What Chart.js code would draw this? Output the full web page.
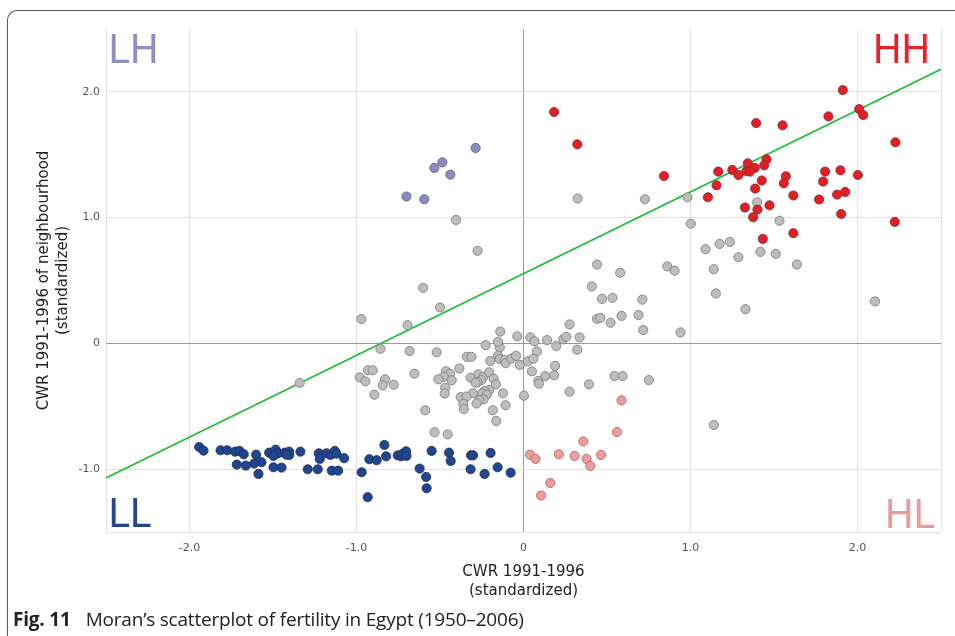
<!DOCTYPE html>
<html>
<head>
<meta charset="utf-8">
<script src="https://cdn.jsdelivr.net/npm/chart.js@4.4.1/dist/chart.umd.min.js"></script>
<style>
  html, body { margin: 0; padding: 0; background: #fff; }
  body { width: 955px; height: 636px; position: relative; overflow: hidden; }
  #frame { position: absolute; left: 7px; top: 10px; width: 1000px; height: 700px;
           border-top: 1.5px solid #555; border-left: 1.5px solid #555; border-top-left-radius: 10px; }
  #wrap { position: absolute; left: 0; top: 0; width: 955px; height: 636px; }
  #caption { position: absolute; left: 13px; top: 606px; font-family: 'Open Sans', sans-serif;
             font-size: 19px; line-height: 26px; color: #222; white-space: nowrap; letter-spacing: -0.2px; }
  #caption b { margin-right: 15px; }
</style>
</head>
<body>
<div id="frame"></div>
<div id="wrap"><canvas id="chart" width="955" height="636"></canvas></div>
<div id="caption"><b>Fig. 11</b>Moran’s scatterplot of fertility in Egypt (1950–2006)</div>
<script>
// 1. Datos (valores estandarizados)
const hhX = [0.183, 0.322, 0.841, 1.912, 2.010, 2.034, 1.826, 1.393, 1.551, 2.227, 1.455, 1.343, 1.441, 1.385,
  1.250, 1.335, 1.355, 1.166, 1.287, 1.571, 1.806, 1.898, 2.002, 1.427, 1.559, 1.794, 1.156, 1.387, 1.926,
  1.878, 1.616, 1.104, 1.770, 1.473, 1.326, 1.401, 1.375, 1.902, 2.223, 1.616, 1.433];
const hhY = [1.840, 1.583, 1.331, 2.014, 1.863, 1.816, 1.805, 1.752, 1.734, 1.599, 1.464, 1.432, 1.416, 1.395,
  1.379, 1.369, 1.366, 1.366, 1.339, 1.329, 1.366, 1.376, 1.339, 1.295, 1.273, 1.287, 1.257, 1.231, 1.204,
  1.183, 1.176, 1.162, 1.144, 1.098, 1.080, 1.064, 1.003, 1.029, 0.966, 0.876, 0.831];

const lhX = [-0.287, -0.534, -0.486, -0.438, -0.701, -0.594];
const lhY = [1.554, 1.395, 1.440, 1.342, 1.168, 1.146];

const hlX = [0.039, 0.072, 0.212, 0.306, 0.378, 0.400, 0.464, 0.358, 0.160, 0.105, 0.560, 0.587];
const hlY = [-0.885, -0.919, -0.882, -0.895, -0.919, -0.975, -0.887, -0.780, -1.110, -1.210, -0.705, -0.453];

const llX = [-1.942, -1.916, -1.814, -1.774, -1.727, -1.701, -1.675, -1.601, -1.717, -1.663, -1.613, -1.569,
  -1.587, -1.523, -1.484, -1.469, -1.497, -1.430, -1.403, -1.402, -1.420, -1.336, -1.497, -1.449, -1.292,
  -1.232, -1.226, -1.180, -1.156, -1.130, -1.120, -1.220, -1.074, -1.148, -1.110, -0.969, -0.933, -0.923,
  -0.879, -0.833, -0.823, -0.753, -0.733, -0.725, -0.703, -0.701, -0.622, -0.583, -0.580, -0.550, -0.446,
  -0.436, -0.314, -0.302, -0.317, -0.233, -0.197, -0.155, -0.077];
const llY = [-0.824, -0.853, -0.850, -0.850, -0.861, -0.855, -0.882, -0.885, -0.964, -0.972, -0.956, -0.945,
  -1.038, -0.869, -0.845, -0.874, -0.895, -0.869, -0.861, -0.887, -0.885, -0.861, -0.985, -0.988, -1.001,
  -1.001, -0.874, -0.874, -0.887, -0.855, -0.877, -0.919, -0.913, -1.012, -1.012, -1.025, -1.223, -0.921,
  -0.929, -0.808, -0.898, -0.890, -0.898, -0.879, -0.858, -0.895, -0.996, -1.062, -1.152, -0.855, -0.869,
  -0.935, -0.890, -0.890, -1.001, -1.038, -0.871, -0.985, -1.028];

const nsX = [0.324, 0.727, 0.982, 1.002, -0.404, -0.275, -0.601, 0.440, 0.579, 0.861, 0.905, 0.409, 0.470,
  0.533, 0.712, 1.399, 1.533, 1.090, 1.174, 1.236, 1.287, 1.419, 1.511, 1.637, 1.139, 1.152, 1.329, 2.105,
  0.440, 0.460, 0.587, 0.689, 0.521, 0.717, 0.940, 0.276, 0.336, -0.139, -0.037, 0.041, 0.066, 0.141, 0.238,
  0.256, 0.196, 0.322, 0.080, -0.142, -0.227, -0.153, -0.153, -0.142, -0.114, -0.107, -0.073, -0.045,
  -0.022, 0.025, 0.059, 0.050, 0.130, 0.183, 0.089, 0.092, 0.189, 0.392, 0.545, 0.593, 0.751, 0.276,
  -0.123, 0.003, -0.107, 1.140, -0.971, -0.500, -0.694, -1.340, -0.857, -0.682, -0.520, -0.339, -0.312,
  -0.384, -0.465, -0.441, -0.477, -0.510, -0.430, -0.469, -0.472, -0.653, -0.931, -0.903, -0.981, -0.947,
  -0.829, -0.843, -0.777, -0.893, -0.317, -0.270, -0.242, -0.253, -0.276, -0.287, -0.206, -0.199, -0.179,
  -0.165, -0.205, -0.233, -0.248, -0.220, -0.239, -0.265, -0.281, -0.303, -0.376, -0.342, -0.360, -0.357,
  -0.184, -0.163, -0.588, -0.533, -0.454];
const nsY = [1.152, 1.146, 1.162, 0.952, 0.982, 0.736, 0.442, 0.627, 0.561, 0.612, 0.578, 0.453, 0.354,
  0.362, 0.348, 1.122, 0.975, 0.749, 0.791, 0.807, 0.685, 0.728, 0.712, 0.627, 0.590, 0.397, 0.272, 0.334,
  0.195, 0.203, 0.219, 0.225, 0.164, 0.106, 0.087, 0.151, 0.048, 0.094, 0.056, 0.048, 0.016, 0.026, 0.032,
  0.052, -0.021, -0.051, -0.064, -0.032, -0.014, 0.012, -0.097, -0.125, -0.134, -0.158, -0.121, -0.099,
  -0.171, -0.143, -0.122, -0.222, -0.261, -0.254, -0.299, -0.321, -0.178, -0.326, -0.260, -0.260, -0.292,
  -0.384, -0.397, -0.416, -0.492, -0.649, 0.193, 0.286, 0.145, -0.315, -0.043, -0.061, -0.071, -0.107,
  -0.107, -0.200, -0.222, -0.241, -0.266, -0.286, -0.294, -0.353, -0.399, -0.241, -0.214, -0.214, -0.270,
  -0.302, -0.286, -0.334, -0.329, -0.408, -0.273, -0.246, -0.268, -0.292, -0.307, -0.313, -0.230, -0.141,
  -0.281, -0.326, -0.371, -0.379, -0.399, -0.409, -0.445, -0.452, -0.478, -0.396, -0.427, -0.423, -0.481,
  -0.522, -0.532, -0.617, -0.532, -0.706, -0.724];

// recta de regresión (pendiente = I de Moran)
const fitX = [-2.5, 2.5];
const fitY = [-1.07, 2.18];

const xTicks = [-2, -1, 0, 1, 2];
const yTicks = [-1, 0, 1, 2];

const pts = (xs, ys) => xs.map((x, i) => ({ x: x, y: ys[i] }));

function puntos(data, fill, border) {
    return { type: 'scatter', data, backgroundColor: fill, borderColor: border,
             borderWidth: 0.8, pointRadius: 4.6, pointHoverRadius: 4.6 };
}

// 2. Etiquetas de cuadrante
const quadLabels = {
    id: 'quadLabels',
    afterDatasetsDraw(chart) {
        const { ctx, chartArea: a } = chart;
        ctx.save();
        ctx.font = '40px Roboto';
        ctx.textBaseline = 'alphabetic';
        ctx.textAlign = 'left';
        ctx.fillStyle = '#8e8ec2'; ctx.fillText('LH', a.left + 2.5, a.top + 33.5);
        ctx.fillStyle = '#24468f'; ctx.fillText('LL', a.left + 2.5, a.bottom - 5);
        ctx.textAlign = 'right';
        ctx.fillStyle = '#e3242b'; ctx.fillText('HH', a.right - 11, a.top + 33.5);
        ctx.fillStyle = '#e89a9c'; ctx.fillText('HL', a.right - 6, a.bottom - 4);
        ctx.restore();
    }
};

const fmt = v => v === 0 ? '0' : v.toFixed(1);
const tickFont = { family: 'DejaVu Sans', size: 11 };
const titleFont = { family: 'DejaVu Sans', size: 15, lineHeight: 1.3 };

// 3. Gráfica
new Chart(document.getElementById('chart'), {
    data: {
        datasets: [
            puntos(pts(hhX, hhY), '#e31e24', '#8a2a2a'),
            puntos(pts(lhX, lhY), '#8c8cc4', '#5c5c80'),
            puntos(pts(llX, llY), '#21468f', '#1a2f5a'),
            puntos(pts(hlX, hlY), '#f29a9a', '#a06a6a'),
            puntos(pts(nsX, nsY), '#bdbdbd', '#7a7a7a'),
            { type: 'line', data: pts(fitX, fitY), borderColor: '#1fbf3a', borderWidth: 1.7,
              pointRadius: 0, fill: false, tension: 0 }
        ]
    },
    options: {
        responsive: false,
        animation: false,
        layout: { padding: { left: 0, right: 14, top: 29, bottom: 0 } },
        plugins: { legend: { display: false }, tooltip: { enabled: false } },
        scales: {
            x: {
                type: 'linear', min: -2.5, max: 2.5,
                afterBuildTicks: s => { s.ticks = [-2.5, ...xTicks, 2.5].map(v => ({ value: v })); },
                afterFit: s => { s.height = 104; },
                ticks: { padding: 10, color: '#555', font: tickFont,
                         callback: v => xTicks.includes(v) ? fmt(v) : '' },
                grid: { drawTicks: false, color: c => c.tick && c.tick.value === 0 ? '#9a9a9a' : '#e2e2e2' },
                border: { display: false },
                title: { display: true, text: ['CWR 1991-1996', '(standardized)'], color: '#222',
                         font: titleFont, padding: { top: 0, bottom: 35 } }
            },
            y: {
                type: 'linear', min: -1.5, max: 2.5,
                afterBuildTicks: s => { s.ticks = [-1.5, ...yTicks, 2.5].map(v => ({ value: v })); },
                afterFit: s => { s.width = 106; },
                ticks: { padding: 6, color: '#555', font: tickFont,
                         callback: v => yTicks.includes(v) ? fmt(v) : '' },
                grid: { drawTicks: false,
                        color: c => !c.tick ? '#e2e2e2' : c.tick.value === 0 ? '#9a9a9a'
                                   : c.tick.value === 2.5 ? 'rgba(0,0,0,0)' : '#e2e2e2' },
                border: { display: false },
                title: { display: true, text: ['CWR 1991-1996 of neighbourhood', '(standardized)'],
                         color: '#222', font: titleFont, padding: { top: 34, bottom: 0 } }
            }
        }
    },
    plugins: [quadLabels]
});
</script>
</body>
</html>
